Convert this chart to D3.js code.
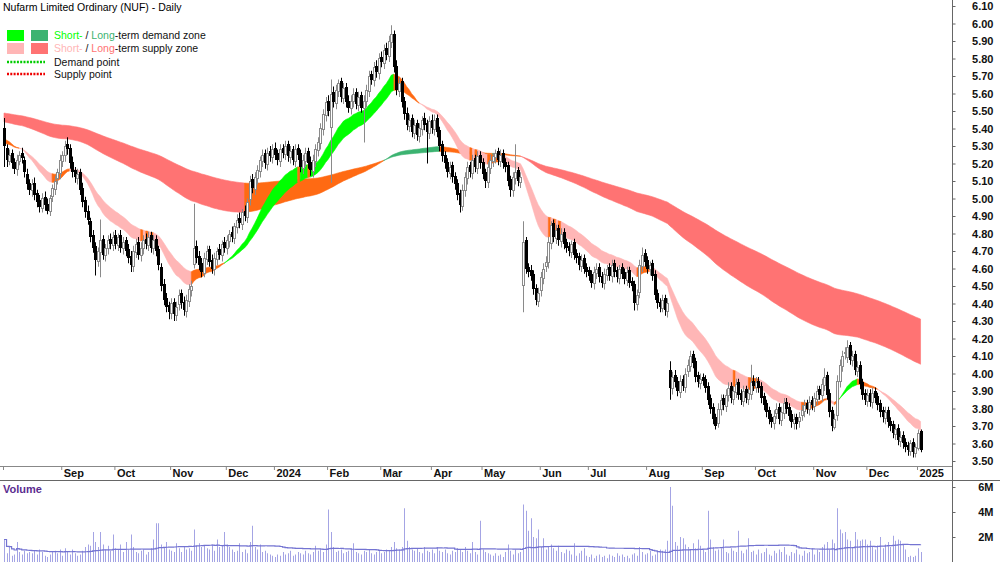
<!DOCTYPE html>
<html>
<head>
<meta charset="utf-8">
<script src="https://cdn.jsdelivr.net/npm/d3@7"></script>
<style>
body { margin: 0; background: #fff; }
svg text { font-family: "Liberation Sans", Arial, sans-serif; }
</style>
</head>
<body>
<div class="container"></div>
<script>
var WIDTH = 1000;
var HEIGHT = 562;

// month ticks (index of first trading day of each month)
var monthLabels = ['', 'Sep', 'Oct', 'Nov', 'Dec', '2024', 'Feb', 'Mar', 'Apr', 'May', 'Jun', 'Jul', 'Aug', 'Sep', 'Oct', 'Nov', 'Dec', '2025'];
var monthStart = [0, 23, 44, 66, 88, 107, 128, 149, 169, 189, 212, 231, 254, 276, 297, 320, 341, 361];
var priceTicks = [3.5, 3.6, 3.7, 3.8, 3.9, 4.0, 4.1, 4.2, 4.3, 4.4, 4.5, 4.6, 4.7, 4.8, 4.9, 5.0, 5.1, 5.2, 5.3, 5.4, 5.5, 5.6, 5.7, 5.8, 5.9, 6.0, 6.1];
var volumeTicks = [2, 4, 6];

// daily prices, Aug 2023 - Jan 2025
var opens = [
  5.40,5.29,5.21,5.26,5.21,5.16,5.21,5.26,5.22,5.14,
  5.09,5.04,5.09,5.03,4.99,4.94,5.01,4.97,4.92,5.01,
  5.05,5.11,5.14,5.21,5.24,5.31,5.29,5.21,5.16,5.11,
  5.15,5.06,4.99,4.93,4.87,4.79,4.73,4.64,4.69,4.77,
  4.67,4.71,4.77,4.73,4.79,4.73,4.79,4.71,4.76,4.71,
  4.67,4.61,4.69,4.75,4.67,4.71,4.77,4.73,4.79,4.71,
  4.77,4.71,4.61,4.51,4.43,4.39,4.34,4.41,4.33,4.39,
  4.46,4.41,4.35,4.41,4.47,4.62,4.73,4.67,4.63,4.57,
  4.65,4.71,4.65,4.59,4.65,4.71,4.67,4.75,4.71,4.75,
  4.81,4.77,4.83,4.89,4.85,4.93,4.89,4.99,5.11,5.05,
  5.11,5.15,5.21,5.26,5.19,5.27,5.23,5.29,5.26,5.21,
  5.29,5.25,5.31,5.23,5.28,5.21,5.29,5.26,5.17,5.21,
  5.27,5.21,5.15,5.21,5.27,5.31,5.39,5.47,5.56,5.40,
  5.61,5.54,5.61,5.67,5.57,5.64,5.56,5.51,5.55,5.61,
  5.53,5.59,5.51,5.55,5.61,5.71,5.67,5.76,5.71,5.81,
  5.77,5.86,5.81,5.89,5.94,5.76,5.61,5.67,5.56,5.49,
  5.41,5.46,5.37,5.43,5.35,5.39,5.46,5.43,5.37,5.45,
  5.39,5.46,5.39,5.31,5.25,5.21,5.14,5.19,5.13,5.09,
  5.03,4.95,5.04,5.11,5.19,5.14,5.23,5.17,5.25,5.21,
  5.15,5.09,5.17,5.21,5.23,5.27,5.21,5.26,5.21,5.19,
  5.11,5.04,5.11,5.16,5.09,4.50,4.76,4.61,4.59,4.57,
  4.49,4.41,4.47,4.54,4.61,4.63,4.74,4.86,4.77,4.83,
  4.75,4.81,4.75,4.73,4.69,4.75,4.69,4.67,4.61,4.66,
  4.61,4.59,4.57,4.51,4.57,4.61,4.56,4.51,4.56,4.61,
  4.55,4.63,4.59,4.54,4.61,4.58,4.53,4.59,4.53,4.51,
  4.39,4.46,4.61,4.69,4.65,4.59,4.63,4.57,4.46,4.41,
  4.37,4.43,4.35,4.02,3.91,3.99,3.96,3.89,3.97,3.92,
  4.01,4.04,4.11,4.07,3.99,3.94,3.98,3.97,3.93,3.86,
  3.81,3.75,3.71,3.79,3.86,3.81,3.87,3.93,3.85,3.89,
  3.95,3.89,3.84,3.91,3.85,3.88,3.96,3.92,3.96,3.93,
  3.87,3.83,3.79,3.75,3.71,3.77,3.81,3.73,3.77,3.84,
  3.81,3.77,3.71,3.75,3.72,3.76,3.78,3.83,3.79,3.85,
  3.81,3.85,3.91,3.87,3.93,3.99,3.89,3.79,3.69,3.76,
  3.95,4.04,4.11,4.09,4.16,4.07,4.11,4.01,4.05,3.95,
  3.89,3.84,3.89,3.83,3.90,3.87,3.83,3.79,3.74,3.79,
  3.73,3.71,3.65,3.69,3.61,3.65,3.61,3.59,3.55,3.61,
  3.54,3.57,3.67
];
var highs = [
  5.46,5.31,5.28,5.28,5.23,5.25,5.27,5.29,5.24,5.17,
  5.11,5.11,5.12,5.05,5.02,5.03,5.04,5.00,5.02,5.08,
  5.13,5.17,5.25,5.27,5.33,5.35,5.31,5.24,5.18,5.17,
  5.17,5.09,5.01,4.96,4.89,4.82,4.75,4.72,4.88,4.79,
  4.74,4.79,4.80,4.81,4.82,4.80,4.82,4.78,4.78,4.74,
  4.70,4.73,4.77,4.78,4.75,4.79,4.80,4.81,4.81,4.79,
  4.79,4.73,4.63,4.54,4.46,4.41,4.43,4.43,4.41,4.48,
  4.48,4.44,4.45,4.51,4.53,4.97,4.76,4.70,4.66,4.69,
  4.73,4.73,4.68,4.69,4.72,4.74,4.76,4.78,4.79,4.82,
  4.84,4.86,4.91,4.92,4.94,4.96,5.00,5.13,5.14,5.15,
  5.19,5.24,5.28,5.28,5.29,5.30,5.31,5.32,5.28,5.31,
  5.31,5.33,5.33,5.30,5.30,5.31,5.31,5.28,5.25,5.29,
  5.29,5.24,5.25,5.31,5.35,5.43,5.51,5.58,5.59,5.68,
  5.64,5.65,5.68,5.69,5.66,5.66,5.59,5.59,5.63,5.63,
  5.61,5.61,5.59,5.65,5.73,5.73,5.78,5.79,5.83,5.84,
  5.88,5.89,5.93,5.99,5.96,5.79,5.69,5.69,5.58,5.52,
  5.48,5.48,5.45,5.45,5.43,5.47,5.49,5.45,5.47,5.48,
  5.48,5.48,5.41,5.33,5.27,5.23,5.21,5.21,5.15,5.11,
  5.05,5.08,5.15,5.21,5.21,5.25,5.25,5.27,5.27,5.23,
  5.17,5.21,5.25,5.26,5.28,5.29,5.28,5.28,5.23,5.21,
  5.13,5.15,5.31,5.18,5.15,4.87,4.78,4.63,4.62,4.59,
  4.51,4.49,4.58,4.63,4.67,4.78,4.87,4.88,4.85,4.85,
  4.83,4.83,4.77,4.75,4.76,4.77,4.71,4.69,4.68,4.68,
  4.63,4.61,4.59,4.61,4.63,4.63,4.58,4.60,4.62,4.63,
  4.65,4.65,4.61,4.62,4.63,4.60,4.61,4.61,4.55,4.53,
  4.48,4.65,4.72,4.71,4.67,4.64,4.65,4.59,4.48,4.43,
  4.45,4.45,4.43,4.07,4.01,4.02,3.98,3.99,3.99,4.03,
  4.08,4.13,4.13,4.09,4.01,4.00,4.00,3.99,3.95,3.88,
  3.83,3.77,3.83,3.88,3.88,3.91,3.95,3.95,3.93,3.97,
  3.97,3.91,3.93,3.93,3.92,4.05,3.99,3.98,3.98,3.95,
  3.89,3.85,3.81,3.77,3.79,3.83,3.83,3.81,3.86,3.86,
  3.83,3.79,3.77,3.77,3.78,3.82,3.85,3.85,3.87,3.87,
  3.89,3.93,3.93,3.97,4.03,4.01,3.91,3.81,3.77,3.99,
  4.08,4.13,4.15,4.19,4.18,4.13,4.13,4.07,4.07,3.97,
  3.91,3.91,3.91,3.92,3.92,3.89,3.85,3.81,3.81,3.81,
  3.75,3.73,3.71,3.71,3.67,3.67,3.63,3.61,3.62,3.63,
  3.60,3.68,3.68
];
var lows = [
  5.18,5.18,5.19,5.17,5.14,5.13,5.19,5.20,5.12,5.05,
  5.02,5.01,4.99,4.95,4.92,4.92,4.93,4.91,4.90,4.98,
  5.02,5.08,5.11,5.18,5.21,5.25,5.17,5.12,5.09,5.08,
  5.02,4.95,4.89,4.85,4.75,4.69,4.56,4.61,4.55,4.65,
  4.64,4.68,4.71,4.70,4.71,4.70,4.69,4.68,4.67,4.63,
  4.58,4.58,4.66,4.65,4.64,4.68,4.71,4.70,4.69,4.68,
  4.67,4.59,4.47,4.39,4.35,4.31,4.31,4.30,4.30,4.36,
  4.37,4.33,4.32,4.38,4.44,4.60,4.63,4.59,4.55,4.55,
  4.62,4.61,4.57,4.56,4.62,4.65,4.64,4.69,4.68,4.72,
  4.75,4.74,4.80,4.83,4.82,4.87,4.86,4.96,5.03,5.02,
  5.08,5.12,5.18,5.17,5.16,5.21,5.20,5.22,5.19,5.18,
  5.23,5.22,5.21,5.20,5.19,5.18,5.22,5.15,5.14,5.18,
  5.17,5.13,5.12,5.18,5.24,5.28,5.36,5.44,5.47,5.09,
  5.52,5.51,5.58,5.55,5.54,5.52,5.49,5.48,5.52,5.51,
  5.50,5.49,5.32,5.52,5.58,5.65,5.64,5.69,5.68,5.75,
  5.74,5.79,5.78,5.86,5.72,5.59,5.58,5.52,5.45,5.39,
  5.38,5.35,5.34,5.33,5.32,5.36,5.39,5.20,5.34,5.37,
  5.36,5.35,5.27,5.21,5.17,5.12,5.11,5.09,5.05,4.99,
  4.92,4.93,5.01,5.08,5.12,5.11,5.15,5.14,5.17,5.11,
  5.06,5.06,5.14,5.18,5.20,5.19,5.18,5.17,5.15,5.07,
  5.01,5.01,5.08,5.07,5.06,4.35,4.57,4.55,4.53,4.45,
  4.39,4.38,4.44,4.51,4.58,4.60,4.71,4.75,4.74,4.73,
  4.72,4.71,4.69,4.67,4.66,4.65,4.63,4.59,4.58,4.57,
  4.55,4.53,4.49,4.48,4.54,4.52,4.49,4.48,4.53,4.53,
  4.52,4.55,4.52,4.51,4.54,4.51,4.50,4.49,4.47,4.36,
  4.36,4.43,4.58,4.61,4.57,4.56,4.53,4.42,4.37,4.35,
  4.35,4.33,4.32,3.85,3.88,3.92,3.87,3.86,3.90,3.89,
  3.98,4.01,4.03,3.95,3.92,3.91,3.93,3.89,3.82,3.77,
  3.71,3.68,3.69,3.76,3.79,3.78,3.84,3.83,3.82,3.86,
  3.85,3.82,3.81,3.83,3.82,3.85,3.90,3.89,3.89,3.83,
  3.79,3.75,3.71,3.69,3.68,3.74,3.71,3.70,3.74,3.77,
  3.73,3.69,3.68,3.68,3.69,3.73,3.75,3.77,3.76,3.79,
  3.78,3.82,3.85,3.84,3.90,3.85,3.75,3.67,3.68,3.73,
  3.92,4.01,4.08,4.06,4.05,4.04,3.99,3.98,3.91,3.85,
  3.82,3.81,3.81,3.80,3.83,3.79,3.75,3.72,3.71,3.69,
  3.67,3.63,3.62,3.59,3.58,3.57,3.55,3.53,3.53,3.52,
  3.52,3.56,3.55
];
var closes = [
  5.30,5.22,5.25,5.20,5.17,5.22,5.25,5.23,5.15,5.08,
  5.05,5.08,5.02,4.98,4.95,5.00,4.96,4.93,5.00,5.06,
  5.10,5.15,5.22,5.25,5.30,5.28,5.20,5.15,5.12,5.14,
  5.05,4.98,4.92,4.88,4.78,4.72,4.65,4.70,4.76,4.68,
  4.72,4.76,4.74,4.78,4.74,4.78,4.72,4.75,4.70,4.66,
  4.62,4.70,4.74,4.68,4.72,4.76,4.74,4.78,4.72,4.76,
  4.70,4.62,4.50,4.42,4.38,4.35,4.40,4.34,4.38,4.45,
  4.40,4.36,4.42,4.48,4.50,4.72,4.66,4.62,4.58,4.66,
  4.70,4.64,4.60,4.66,4.70,4.68,4.74,4.72,4.76,4.80,
  4.78,4.84,4.88,4.86,4.92,4.90,4.98,5.10,5.06,5.12,
  5.16,5.22,5.25,5.20,5.26,5.24,5.28,5.25,5.22,5.28,
  5.26,5.30,5.24,5.27,5.22,5.28,5.25,5.18,5.22,5.26,
  5.20,5.16,5.22,5.28,5.32,5.40,5.48,5.55,5.50,5.60,
  5.55,5.62,5.66,5.58,5.63,5.55,5.52,5.56,5.60,5.54,
  5.58,5.52,5.56,5.62,5.70,5.68,5.75,5.72,5.80,5.78,
  5.85,5.82,5.90,5.94,5.75,5.62,5.66,5.55,5.48,5.42,
  5.45,5.38,5.42,5.36,5.40,5.45,5.42,5.38,5.44,5.40,
  5.45,5.38,5.30,5.24,5.20,5.15,5.18,5.12,5.08,5.02,
  4.96,5.05,5.12,5.18,5.15,5.22,5.18,5.24,5.20,5.14,
  5.10,5.18,5.22,5.24,5.26,5.22,5.25,5.20,5.18,5.10,
  5.05,5.12,5.15,5.10,5.12,4.75,4.60,4.58,4.56,4.48,
  4.42,4.46,4.55,4.60,4.64,4.75,4.85,4.78,4.82,4.76,
  4.80,4.74,4.72,4.70,4.74,4.68,4.66,4.62,4.65,4.60,
  4.58,4.56,4.52,4.58,4.60,4.55,4.52,4.57,4.60,4.56,
  4.62,4.58,4.55,4.60,4.57,4.54,4.58,4.52,4.50,4.40,
  4.45,4.62,4.68,4.64,4.60,4.62,4.56,4.45,4.40,4.38,
  4.42,4.36,4.40,3.92,3.98,3.95,3.90,3.96,3.93,4.00,
  4.05,4.10,4.06,3.98,3.95,3.97,3.96,3.92,3.85,3.80,
  3.74,3.70,3.80,3.85,3.82,3.88,3.92,3.86,3.90,3.94,
  3.88,3.85,3.90,3.86,3.89,3.95,3.93,3.95,3.92,3.86,
  3.82,3.78,3.74,3.72,3.76,3.80,3.74,3.78,3.83,3.80,
  3.76,3.72,3.74,3.71,3.75,3.79,3.82,3.80,3.84,3.82,
  3.86,3.90,3.88,3.94,3.98,3.88,3.78,3.70,3.74,3.96,
  4.05,4.10,4.12,4.15,4.08,4.10,4.02,4.04,3.94,3.88,
  3.85,3.88,3.84,3.89,3.86,3.82,3.78,3.75,3.78,3.72,
  3.70,3.66,3.68,3.62,3.64,3.60,3.58,3.56,3.60,3.55,
  3.58,3.66,3.56
];
// daily volume, millions of shares
var volumes = [
  1.8,0.7,1.2,0.5,0.6,1.6,0.8,0.6,0.9,0.7,
  0.8,0.7,0.9,0.6,1.0,0.8,0.5,0.4,0.6,0.8,
  0.9,0.7,1.0,0.5,1.1,0.8,0.6,1.0,0.7,0.5,
  0.6,0.9,1.2,1.4,1.3,2.4,1.6,1.2,2.4,1.4,
  1.0,1.3,0.9,2.2,1.1,1.0,1.4,0.8,1.6,1.0,
  2.2,1.2,0.8,0.7,0.9,1.0,0.6,0.8,1.1,1.8,
  3.1,3.1,1.4,1.2,1.6,1.0,0.9,0.8,1.5,1.1,
  0.8,1.2,1.0,1.1,0.9,2.6,1.3,1.5,1.2,1.3,
  1.1,1.0,1.4,0.9,1.8,1.2,1.3,2.4,1.4,1.2,
  1.0,0.8,0.9,1.5,0.8,1.0,0.7,1.6,2.9,1.2,
  1.0,1.4,0.8,0.9,0.7,0.6,0.5,0.4,0.6,0.5,
  0.8,0.6,0.7,0.9,0.5,0.6,0.8,0.7,0.6,0.9,
  0.7,0.6,0.8,1.3,0.9,1.0,0.8,1.4,4.2,2.4,
  1.2,0.8,0.9,1.0,0.7,0.8,0.9,1.1,1.5,0.8,
  0.7,0.6,0.9,0.8,1.0,0.7,0.6,0.8,0.9,0.7,
  0.8,1.0,0.9,1.2,1.6,1.1,1.0,1.2,4.3,1.7,
  1.2,1.0,0.9,1.1,0.8,0.7,1.2,0.9,0.8,1.0,
  0.7,1.2,0.9,0.8,1.0,0.7,0.6,0.9,0.8,1.1,
  1.0,0.8,1.2,0.9,0.7,1.6,0.8,0.6,3.3,1.0,
  0.8,0.7,0.6,0.5,0.7,0.5,0.6,0.4,0.8,1.4,
  0.9,0.6,1.0,0.7,0.8,4.6,4.1,2.5,3.5,2.0,
  1.9,2.6,1.2,1.9,1.0,1.2,1.4,1.1,0.9,1.3,
  0.8,0.7,1.0,0.9,0.6,1.5,0.5,0.7,0.9,1.1,
  0.5,0.4,0.6,0.3,0.5,0.6,0.4,0.5,0.3,0.6,
  0.5,0.4,0.7,0.5,0.6,0.4,0.5,0.3,0.6,0.7,
  0.5,1.2,0.8,0.6,0.7,0.9,0.5,0.6,0.8,1.0,
  0.9,1.0,1.7,6.0,4.5,1.6,1.3,2.0,1.9,1.4,
  1.2,1.0,1.5,1.1,1.8,1.3,1.0,0.8,4.1,1.8,
  1.2,0.9,1.0,1.1,1.8,0.8,0.7,1.1,0.9,0.8,
  2.5,0.9,0.7,1.0,1.9,0.8,0.9,0.6,1.0,0.7,
  0.8,1.1,0.6,0.5,0.9,0.7,1.0,0.8,1.2,0.6,
  0.5,0.8,0.7,1.0,0.6,0.5,0.9,0.7,0.8,1.1,
  0.6,1.0,0.8,1.2,1.4,1.6,1.0,1.8,1.5,4.3,
  2.6,2.3,2.4,1.8,1.7,1.2,2.4,1.8,1.7,1.8,
  1.8,1.4,1.7,1.2,1.0,1.3,2.0,1.1,1.4,1.6,
  1.2,2.1,1.7,1.8,1.7,1.4,1.0,0.4,0.5,0.4,
  0.5,1.1,0.8
];

// trend-zone settings: EMA periods and starting values read from the left edge
var shortPeriods = [20, 32];
var longPeriods = [135, 230];
var shortSeed = [5.35, 5.32];
var longSeed = [5.44, 5.49];

var ema = function (values, period, seed) {
  var k = 2 / (period + 1), prev = seed;
  return values.map(function (v) { prev = prev + k * (v - prev); return prev; });
};

var sma = function (values, period) {
  return values.map(function (v, i) {
    var s = values.slice(Math.max(0, i - period + 1), i + 1);
    return d3.mean(s);
  });
};

var bandRuns = function (fast, slow) {
  var states = fast.map(function (f, i) {
    var prev = i > 0 ? fast[i - 1] : f;
    if (f >= slow[i]) return f >= prev ? 'demand' : 'mixed';
    return f <= prev ? 'supply' : 'mixed';
  });
  var runs = [], cur = null;
  for (var i = 1; i < fast.length; i++) {
    if (!cur || cur.state !== states[i]) {
      cur = { state: states[i], idx: [i - 1] };
      runs.push(cur);
    }
    cur.idx.push(i);
  }
  return runs;
};

var loadChart = function () {
  var x = d3.scaleLinear().domain([0, 361]).range([4, 918]);
  var y = d3.scaleLinear().domain([3.5, 6.1]).range([461, 6]);
  var yv = d3.scaleLinear().domain([0, 6]).range([562, 487]);

  var svg = d3.select('.container').append('svg')
    .attr('width', WIDTH)
    .attr('height', HEIGHT);

  svg.append('defs').append('clipPath').attr('id', 'plot')
    .append('rect').attr('x', 0).attr('y', 0).attr('width', 952).attr('height', 466);

  var plot = svg.append('g').attr('clip-path', 'url(#plot)');

  // trend zones
  var drawBand = function (fast, slow, colors) {
    var area = d3.area()
      .x(function (i) { return x(i); })
      .y0(function (i) { return y(fast[i]); })
      .y1(function (i) { return y(slow[i]); });
    bandRuns(fast, slow).forEach(function (run) {
      plot.append('path')
        .datum(run.idx)
        .attr('d', area)
        .attr('fill', colors[run.state])
        .attr('stroke', colors[run.state])
        .attr('stroke-width', 0.6);
    });
  };

  drawBand(ema(closes, longPeriods[0], longSeed[0]), ema(closes, longPeriods[1], longSeed[1]),
    { demand: '#3cb371', supply: '#ff7373', mixed: '#ff6a13' });
  drawBand(ema(closes, shortPeriods[0], shortSeed[0]), ema(closes, shortPeriods[1], shortSeed[1]),
    { demand: '#00ff00', supply: '#ffb6b6', mixed: '#ff6a13' });

  // candles
  var candles = plot.append('g');
  closes.forEach(function (c, i) {
    var o = opens[i];
    var up = c >= o;
    var px = Math.round(x(i));
    candles.append('line')
      .attr('x1', px + 0.5).attr('x2', px + 0.5)
      .attr('y1', y(highs[i])).attr('y2', y(lows[i]))
      .attr('stroke', up ? '#8a8a8a' : '#000')
      .attr('stroke-width', 1);
    var top = Math.round(y(Math.max(o, c)));
    var h = Math.max(1, Math.round(y(Math.min(o, c))) - top);
    if (up) {
      candles.append('rect')
        .attr('x', px - 0.5).attr('y', top + 0.5)
        .attr('width', 2).attr('height', Math.max(1, h - 1))
        .attr('fill', '#fff').attr('stroke', '#8a8a8a').attr('stroke-width', 1);
    } else {
      candles.append('rect')
        .attr('x', px - 1).attr('y', top)
        .attr('width', 3).attr('height', h)
        .attr('fill', '#000');
    }
  });

  // frame lines
  svg.append('line').attr('x1', 0).attr('x2', 952).attr('y1', 466.5).attr('y2', 466.5).attr('stroke', '#888');
  svg.append('line').attr('x1', 0).attr('x2', WIDTH).attr('y1', 480.5).attr('y2', 480.5).attr('stroke', '#666');
  svg.append('line').attr('x1', 952.5).attr('x2', 952.5).attr('y1', 0).attr('y2', HEIGHT).attr('stroke', '#666');

  // price axis
  var yAxis = d3.axisRight(y).tickValues(priceTicks).tickSize(3).tickFormat(d3.format('.2f'));
  var ga = svg.append('g').attr('transform', 'translate(952.5,0)').call(yAxis);
  ga.select('.domain').remove();
  ga.selectAll('line').attr('stroke', '#666');
  ga.selectAll('text').attr('x', 41).attr('text-anchor', 'end')
    .attr('font-size', 11).attr('font-weight', 'bold').attr('fill', '#111');

  // month axis
  var xAxis = d3.axisBottom(x).tickValues(monthStart).tickSize(4)
    .tickFormat(function (d, i) { return monthLabels[i]; });
  var gx = svg.append('g').attr('transform', 'translate(0,466)').call(xAxis);
  gx.select('.domain').remove();
  gx.selectAll('line').attr('stroke', '#888').attr('transform', 'translate(-1,0)');
  gx.selectAll('text').attr('x', 1).attr('y', 3).attr('text-anchor', 'start')
    .attr('font-size', 11).attr('font-weight', 'bold').attr('fill', '#111');

  // volume
  var vol = svg.append('g');
  volumes.forEach(function (v, i) {
    var px = Math.round(x(i)) + 0.5;
    vol.append('line')
      .attr('x1', px).attr('x2', px)
      .attr('y1', yv(0)).attr('y2', yv(v))
      .attr('stroke', '#a4a4e4').attr('stroke-width', 1);
  });
  var volAvg = sma(volumes, 50);
  vol.append('path')
    .datum(volAvg)
    .attr('d', d3.line().x(function (d, i) { return x(i); }).y(function (d) { return yv(d); }).curve(d3.curveStepAfter))
    .attr('fill', 'none').attr('stroke', '#7474d2').attr('stroke-width', 1.2);

  var vAxis = d3.axisRight(yv).tickValues(volumeTicks).tickSize(3).tickFormat(function (d) { return d + 'M'; });
  var gv = svg.append('g').attr('transform', 'translate(952.5,0)').call(vAxis);
  gv.select('.domain').remove();
  gv.selectAll('line').attr('stroke', '#666');
  gv.selectAll('text').attr('x', 41).attr('text-anchor', 'end')
    .attr('font-size', 11).attr('font-weight', 'bold').attr('fill', '#111');

  svg.append('text').attr('x', 3).attr('y', 493).text('Volume')
    .attr('font-size', 11).attr('font-weight', 'bold').attr('fill', '#5b2c8f');

  // title + legend
  svg.append('text').attr('x', 3).attr('y', 11).text('Nufarm Limited Ordinary (NUF) - Daily')
    .attr('font-size', 10.5).attr('fill', '#000');

  var legend = svg.append('g').attr('font-size', 10.5).attr('fill', '#111');
  var zoneRows = [
    { y: 35, c1: '#00ff00', c2: '#3cb371', word: 'demand' },
    { y: 48, c1: '#ffb6b6', c2: '#ff7373', word: 'supply' }
  ];
  zoneRows.forEach(function (r) {
    legend.append('rect').attr('x', 7).attr('y', r.y - 5).attr('width', 17).attr('height', 11).attr('fill', r.c1);
    legend.append('rect').attr('x', 31).attr('y', r.y - 5).attr('width', 17).attr('height', 11).attr('fill', r.c2);
    var t = legend.append('text').attr('x', 54).attr('y', r.y + 4);
    t.append('tspan').attr('fill', r.c1).text('Short-');
    t.append('tspan').text(' / ');
    t.append('tspan').attr('fill', r.c2).text('Long');
    t.append('tspan').text('-term ' + r.word + ' zone');
  });
  var pointRows = [
    { y: 62, c: '#00cc00', label: 'Demand point' },
    { y: 74, c: '#ee0000', label: 'Supply point' }
  ];
  pointRows.forEach(function (r) {
    legend.append('line').attr('x1', 7).attr('x2', 45).attr('y1', r.y).attr('y2', r.y)
      .attr('stroke', r.c).attr('stroke-width', 2.5).attr('stroke-dasharray', '2,1.3');
    legend.append('text').attr('x', 54).attr('y', r.y + 4).text(r.label);
  });
};

window.onload = loadChart;
</script>
</body>
</html>
